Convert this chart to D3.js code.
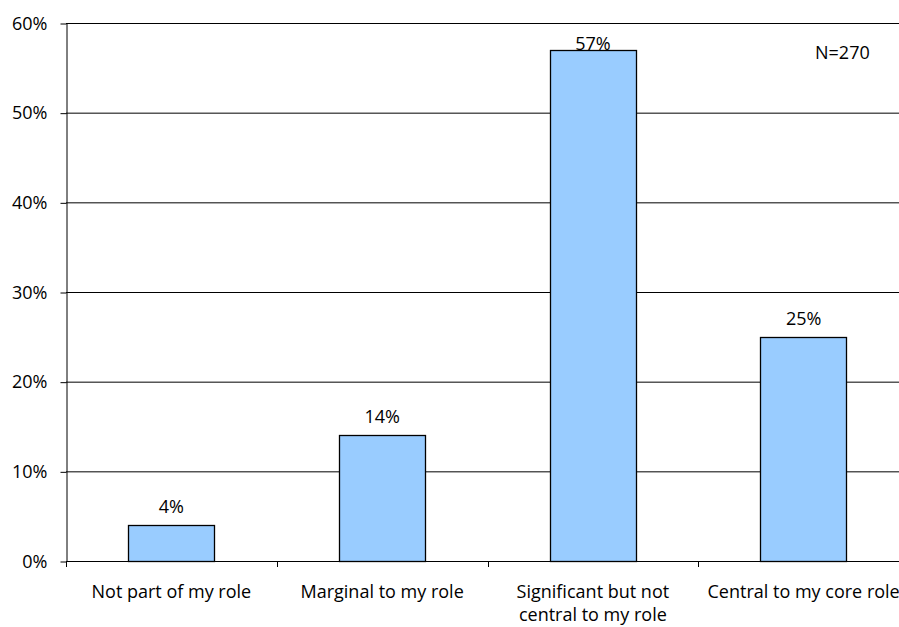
<!DOCTYPE html>
<html>
<head>
<meta charset="utf-8">
<script src="https://cdn.jsdelivr.net/npm/d3@7"></script>
<style>
  body { margin: 0; background: #fff; }
  svg { display: block; font-family: "Open Sans", sans-serif; }
</style>
</head>
<body>
<script>
var categories = ['Not part of my role', 'Marginal to my role', 'Significant but not central to my role', 'Central to my core role']
var catLines = [['Not part of my role'], ['Marginal to my role'], ['Significant but not', 'central to my role'], ['Central to my core role']]
var values = [4, 14, 57, 25]
var yTicks = [0, 10, 20, 30, 40, 50, 60]
var note = 'N=270'

var width = 899, height = 627
var margin = {top: 23, right: -10, bottom: 66, left: 66}
var fs = 18

var svg = d3.select('body').append('svg')
  .attr('width', width)
  .attr('height', height)

var x = d3.scaleBand()
  .domain(categories)
  .range([margin.left, width - margin.right])
  .paddingInner(0.59)
  .paddingOuter(0.295)

var y = d3.scaleLinear()
  .domain([0, 60])
  .range([height - margin.bottom, margin.top])

// gridlines
svg.append('g')
  .selectAll('line')
  .data(yTicks.slice(1))
  .enter().append('line')
    .attr('x1', margin.left)
    .attr('x2', width)
    .attr('y1', d => y(d) + 0.5)
    .attr('y2', d => y(d) + 0.5)
    .attr('stroke', '#000')
    .attr('stroke-width', 1)

// y axis
var yAxis = svg.append('g')
  .attr('transform', 'translate(' + (margin.left + 0.5) + ',0.5)')
  .call(d3.axisLeft(y).tickValues(yTicks).tickFormat(d => d + '%').tickSize(6).tickSizeOuter(0))
yAxis.select('.domain').attr('stroke', '#000')
yAxis.selectAll('text').attr('font-size', fs).attr('font-family', '"Open Sans", sans-serif').attr('fill', '#000').attr('dx', -10)

// bars
svg.append('g')
  .selectAll('rect')
  .data(values)
  .enter().append('rect')
    .attr('x', (d, i) => Math.round(x(categories[i])) + 0.5)
    .attr('y', d => Math.round(y(d)) + 0.5)
    .attr('width', Math.round(x.bandwidth()))
    .attr('height', d => Math.round(y(0)) - Math.round(y(d)))
    .attr('fill', '#99ccff')
    .attr('stroke', '#000')
    .attr('stroke-width', 1.3)

// x axis
var step = x.step()
var ticksX = d3.range(categories.length + 1).map(i => margin.left + i * step)
var xg = svg.append('g')
xg.append('line')
  .attr('x1', margin.left).attr('x2', width)
  .attr('y1', y(0) + 0.5).attr('y2', y(0) + 0.5)
  .attr('stroke', '#000')
xg.selectAll('.tk')
  .data(ticksX)
  .enter().append('line')
    .attr('x1', d => Math.round(d) + 0.5).attr('x2', d => Math.round(d) + 0.5)
    .attr('y1', y(0)).attr('y2', y(0) + 6)
    .attr('stroke', '#000')

// category labels
catLines.forEach(function (lines, i) {
  var t = svg.append('text')
    .attr('x', x(categories[i]) + x.bandwidth() / 2)
    .attr('y', y(0) + 37)
    .attr('text-anchor', 'middle')
    .attr('font-size', fs)
  lines.forEach(function (s, j) {
    t.append('tspan')
      .attr('x', x(categories[i]) + x.bandwidth() / 2)
      .attr('dy', j === 0 ? 0 : 23)
      .text(s)
  })
})

// value labels
svg.append('g')
  .selectAll('text')
  .data(values)
  .enter().append('text')
    .attr('x', (d, i) => x(categories[i]) + x.bandwidth() / 2)
    .attr('y', d => Math.max(y(d) - 12, y(60) + 27))
    .attr('text-anchor', 'middle')
    .attr('font-size', fs)
    .text(d => d + '%')

svg.append('text')
  .attr('x', 815)
  .attr('y', 59)
  .attr('font-size', fs)
  .text(note)
</script>
</body>
</html>
